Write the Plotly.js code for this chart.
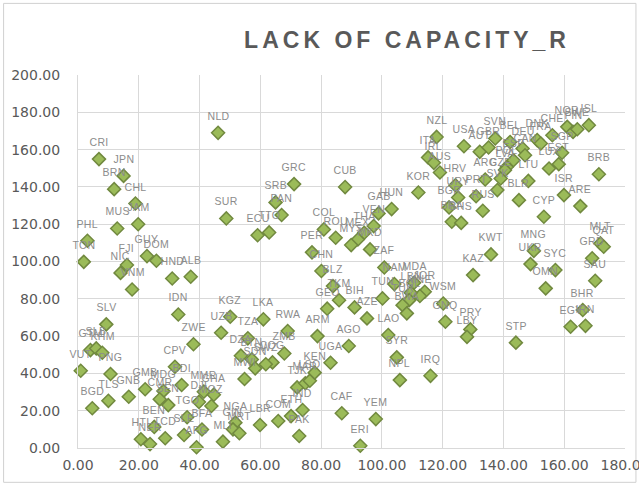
<!DOCTYPE html>
<html>
<head>
<meta charset="utf-8">
<script src="https://cdn.plot.ly/plotly-3.0.1.min.js"></script>
<style>
html,body{margin:0;padding:0;background:#fff;}
#chart{width:639px;height:486px;}
#chart .gtitle{letter-spacing:4px;}
#chart .annotation-text{letter-spacing:0.3px;}
</style>
</head>
<body>
<div id="chart"></div>
<script>
const countries = ["CRI","JPN","BRN","CHL","JAM","MUS","NLD","GRC","SRB","PAN","TTO","ECU","SUR","CUB","COL","ROU","PER","CHN","BLZ","TKM","GEO","ARM","KGZ","UZB","LKA","TZA","RWA","ZMB","AGO",
"NZL","USA","AUT","ITA","IRL","AUS","HRV","KOR","URY","PRT","BGR","BRA","BHS","HUN","GAB","VEN","THA","MEX","MYS","MKD","ZAF","NAM","MDA","JOR","MNE","LBN","BOL","TUR","BWA","TUN","BIH","AZE","LAO","WSM","GNQ","KAZ","PRY","LBY",
"NOR","FIN","SWE","ISL","CHE","SGP","DNK","FRA","DEU","CAN","BEL","SVN","GBR","ESP","POL","LVA","CZE","ARG","LTU","EST","LUX","ISR","ARE","CYP","BRB","BLR","RUS","SVK","KWT","MNG","UKR","SYC","OMN","MLT","QAT","GRD","SAU","BHR","EGY","IRN","STP",
"PHL","TON","FJI","NIC","VNM","GUY","DOM","HND","ALB","IDN","ZWE","SLV","GTM","SLB","KHM","VUT","PNG","TLS","BGD","GNB","CPV","BDI","GMB","MDG","CMR","SEN","HTI","NER","BEN","TCD","SLE","TGO","AFG","BFA","DJI","MMR","GHA","MOZ","NGA","GIN","MRT","MLI","LBR","COM","ETH","PAK","IND","TJK","MAR","LSO","KEN","UGA","CAF","COG","SWZ","DZA","BTN","SDN","MWI","SYR","NPL","IRQ","YEM","ERI"];
const xValues = [6.9,15.0,11.9,18.9,19.8,12.9,46.1,71.1,65.0,67.0,62.9,59.1,48.8,87.9,80.9,84.8,77.0,80.1,83.9,85.9,82.0,78.8,50.1,47.1,61.0,55.9,69.0,67.9,89.1,
118.0,127.0,132.2,115.2,117.1,119.1,124.2,112.0,125.1,131.0,122.1,123.0,126.1,103.2,98.9,97.3,94.2,92.1,89.9,96.1,100.8,104.1,110.6,114.1,112.5,109.5,109.0,106.8,108.2,100.2,91.0,95.1,102.1,120.2,120.9,130.0,129.1,128.0,
161.0,162.9,164.3,168.1,156.1,159.3,151.1,152.3,146.3,147.1,142.2,137.3,135.1,143.3,141.1,140.5,139.1,134.0,148.2,158.2,155.0,159.9,165.3,153.3,171.4,145.1,133.2,138.0,135.9,150.0,148.9,157.1,153.9,171.9,173.0,169.2,170.2,166.1,162.1,167.0,144.1,
3.1,1.9,16.1,14.0,17.8,22.7,25.8,31.0,37.1,33.0,38.0,9.3,4.1,6.0,8.0,0.9,10.7,10.0,4.7,16.7,31.9,34.1,22.1,28.1,26.9,29.7,20.7,23.7,25.1,28.7,34.9,35.9,39.0,40.8,39.8,41.4,44.7,43.9,51.8,51.0,53.1,47.7,59.9,65.9,70.1,72.8,73.9,72.1,74.8,76.3,77.9,83.1,86.8,64.0,61.8,53.6,57.2,58.3,54.8,104.9,105.9,116.0,98.0,92.9];
const yValues = [154.9,145.9,138.8,131.1,120.0,117.7,169.0,141.5,131.7,124.9,115.6,114.1,123.1,139.9,117.2,112.7,104.9,94.9,86.8,79.2,74.7,60.0,70.4,61.8,69.0,58.8,62.7,50.7,54.7,
166.8,161.8,158.8,155.8,152.9,147.7,140.9,137.0,134.3,135.0,129.0,121.3,120.7,128.1,125.8,119.0,115.4,111.8,108.8,106.5,96.8,87.9,88.6,83.8,81.5,83.2,79.3,76.6,72.2,80.2,75.4,69.5,60.6,77.5,67.7,92.7,63.6,59.6,
172.2,169.5,170.9,173.1,167.7,158.3,165.1,163.3,160.6,157.0,164.1,166.0,161.1,154.3,150.7,149.0,144.5,144.0,143.2,152.2,149.9,135.6,129.7,124.0,146.8,132.9,127.2,138.3,103.8,105.7,98.6,95.4,85.6,109.7,107.9,101.7,89.7,74.0,65.0,65.5,56.5,
111.1,99.8,98.1,93.9,85.0,102.9,100.4,90.9,91.8,71.6,55.6,66.3,52.5,53.4,51.1,41.4,39.7,25.3,21.3,27.5,43.6,33.8,31.5,30.5,26.1,23.0,4.7,2.1,11.3,5.2,7.0,16.5,0.4,9.9,24.7,30.2,28.6,22.5,13.6,10.0,7.9,3.4,12.3,14.5,17.1,6.4,20.4,32.5,34.7,36.1,40.4,45.7,18.6,45.9,44.9,49.5,47.5,42.7,37.0,48.6,36.4,38.7,15.5,1.2];
const chartTitle = "LACK OF CAPACITY_R";
const xTicks = [0,20,40,60,80,100,120,140,160,180];
const yTicks = [0,20,40,60,80,100,120,140,160,180,200];

const labelAnnotations = countries.map((c, i) => ({
  x: xValues[i], y: yValues[i], xref: 'x', yref: 'y', text: c, showarrow: false,
  yshift: 17, font: {family: 'Liberation Sans, Arial, sans-serif', size: 10.5, color: '#8c8c8c'}
}));

const trace = {
  type: 'scatter', mode: 'markers', x: xValues, y: yValues, text: countries,
  marker: {symbol: 'diamond', size: 10, color: '#9BBB59', line: {color: '#71893F', width: 1.5}},
  hoverinfo: 'text', cliponaxis: false
};

const tickFont = {family: 'DejaVu Sans, Liberation Sans, sans-serif', size: 14, color: '#595959'};

const layout = {
  width: 639, height: 486,
  margin: {l: 78, r: 14, t: 75, b: 38},
  paper_bgcolor: '#ffffff', plot_bgcolor: '#ffffff',
  showlegend: false,
  title: {text: '<b>' + chartTitle + '</b>', x: 0.637, xanchor: 'center', y: 0.917, yanchor: 'middle',
    font: {family: 'Liberation Sans, Arial, sans-serif', size: 23, color: '#595959'}},
  xaxis: {range: [0, 180], tickvals: xTicks, tickformat: '.2f', showgrid: true, gridcolor: '#d9d9d9', gridwidth: 1,
    zeroline: false, showline: true, linecolor: '#d9d9d9', ticks: '', ticklabelstandoff: 4, ticklabeloverflow: 'allow',
    tickfont: tickFont},
  yaxis: {range: [0, 200], tickvals: yTicks, tickformat: '.2f', showgrid: true, gridcolor: '#d9d9d9', gridwidth: 1,
    zeroline: false, showline: true, linecolor: '#d9d9d9', ticks: '', ticklabelstandoff: 14, ticklabeloverflow: 'allow',
    tickfont: tickFont},
  annotations: labelAnnotations,
  shapes: [{type: 'rect', xref: 'paper', yref: 'paper', x0: -0.136, x1: 1.02, y0: -0.092, y1: 1.192,
    line: {color: '#d0d0d0', width: 1}, fillcolor: 'rgba(0,0,0,0)', layer: 'below'}]
};

Plotly.newPlot('chart', [trace], layout, {displayModeBar: false, staticPlot: true});
</script>
</body>
</html>
